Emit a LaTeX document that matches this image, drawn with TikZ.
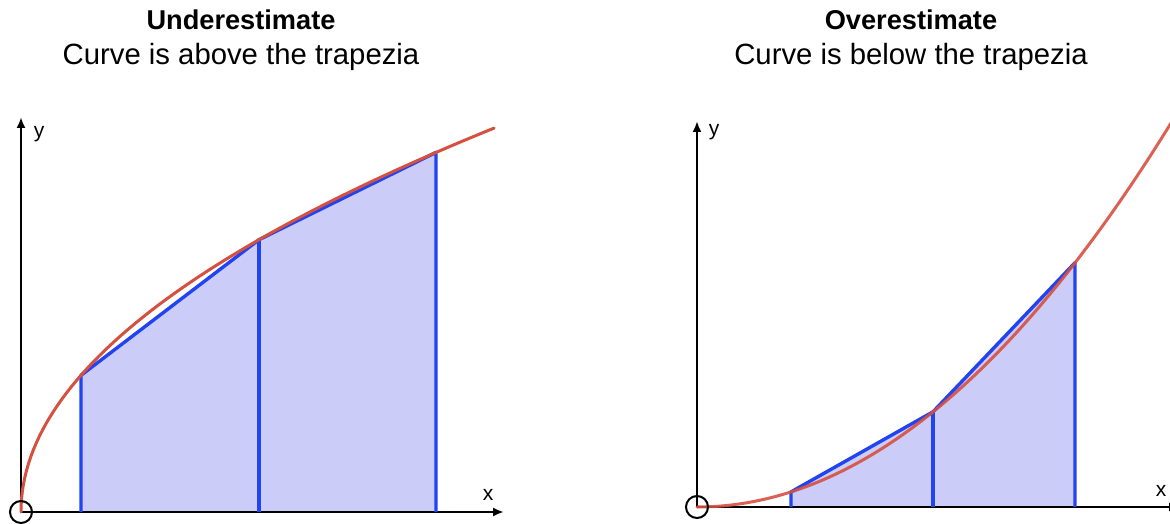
\documentclass[tikz,border=0pt]{standalone}
\usepackage{fontspec}
\setmainfont{Liberation Sans}
\usetikzlibrary{arrows.meta}
\definecolor{curvered}{RGB}{214,80,64}
\definecolor{trapblue}{RGB}{34,68,240}
\definecolor{trapfill}{RGB}{204,204,248}
\tikzset{
  axis/.style={line width=2.4pt, black, -{Latex[length=11pt,width=9pt]}},
  curve/.style={line width=3pt, curvered, line cap=round},
  trap/.style={line width=3.4pt, trapblue, line join=round},
  trapfillstyle/.style={fill=trapfill},
  origin/.style={circle, draw=black, line width=2pt, minimum size=22pt, inner sep=0pt},
  title/.style={font=\fontsize{27.2}{32}\selectfont\bfseries, anchor=base, inner sep=0pt},
  subtitle/.style={font=\fontsize{29.3}{32}\selectfont, anchor=base, inner sep=0pt},
  axlabel/.style={font=\fontsize{21}{24}\selectfont, anchor=base, inner sep=0pt}
}
\begin{document}
\begin{tikzpicture}[x=1pt,y=-1pt]
\useasboundingbox (0,0) rectangle (1170,524);
% ---------- titles
\node[title] (t1) at (241,30) {Underestimate};
\node[subtitle] (s1) at (241,65) {Curve is above the trapezia};
\node[title] (t2) at (911,30) {Overestimate};
\node[subtitle] (s2) at (911,65) {Curve is below the trapezia};
% ---------- left graph
\coordinate (LO) at (21,512);
\coordinate (LY) at (21,117);
\coordinate (LX) at (504,512);
\coordinate (LA0) at (81,512);
\coordinate (LA1) at (81,375.3);
\coordinate (LB0) at (259,512);
\coordinate (LB1) at (259,239.7);
\coordinate (LC0) at (436,512);
\coordinate (LC1) at (436,152.4);
\fill[trapfillstyle] (LA0) -- (LA1) -- (LB1) -- (LC1) -- (LC0) -- cycle;
\draw[axis] (LO) -- (LY);
\draw[axis] (LO) -- (LX);
\draw[trap] (LA0) -- (LA1) -- (LB1) -- (LC1) -- (LC0);
\draw[trap] (LB0) -- (LB1);
\draw[curve] plot[domain=0:21.75, samples=120, smooth] ({21+\x*\x},{512-17.65*\x});
\node[origin] (lo) at (LO) {};
\node[axlabel] (ly) at (39,138) {y};
\node[axlabel] (lx) at (488,500) {x};
% ---------- right graph
\coordinate (RO) at (697,507);
\coordinate (RY) at (697,121);
\coordinate (RX) at (1180,507);
\coordinate (RA0) at (791,507);
\coordinate (RA1) at (791,491.9);
\coordinate (RB0) at (933,507);
\coordinate (RB1) at (933,411.8);
\coordinate (RC0) at (1075,507);
\coordinate (RC1) at (1075,262.7);
\fill[trapfillstyle] (RA0) -- (RA1) -- (RB1) -- (RC1) -- (RC0) -- cycle;
\draw[axis] (RO) -- (RY);
\draw[axis] (RO) -- (RX);
\draw[trap] (RA0) -- (RA1) -- (RB1) -- (RC1) -- (RC0);
\draw[trap] (RB0) -- (RB1);
\draw[curve, opacity=0.9] plot[domain=0:490, samples=120, smooth] ({697+\x},{507-0.00171*\x*\x});
\node[origin] (ro) at (RO) {};
\node[axlabel] (ry) at (714,136) {y};
\node[axlabel] (rx) at (1161,496) {x};
\end{tikzpicture}
\end{document}
